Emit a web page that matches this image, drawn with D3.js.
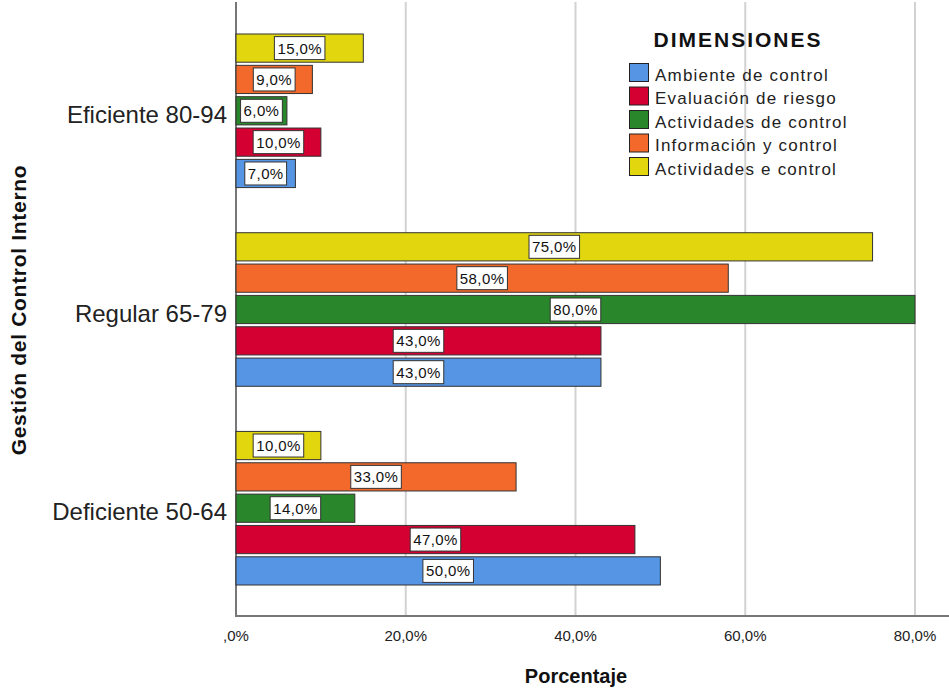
<!doctype html>
<html>
<head>
<meta charset="utf-8">
<style>
  html, body { margin: 0; padding: 0; background: #fff; }
  svg { display: block; font-family: "Liberation Sans", Arial, sans-serif; }
  .grid line { stroke: #d2d2d2; stroke-width: 2px; }
  .tick-lbl { font-size: 15px; fill: #222; }
  .cat-lbl { font-size: 24px; fill: #222; }
  .bar { stroke: #333; stroke-width: 1px; }
  .val-box { fill: #fff; stroke: #333; stroke-width: 1px; }
  .val-txt { font-size: 15px; fill: #111; letter-spacing: 0.4px; }
  .leg-txt { font-size: 17px; fill: #222; letter-spacing: 1.2px; }
</style>
</head>
<body>
<svg id="chart" width="949" height="689"></svg>
<script src="https://cdn.jsdelivr.net/npm/d3@7"></script>
<script>
    // categories, top to bottom
    var categories = ["Eficiente 80-94", "Regular 65-79", "Deficiente 50-64"];
    // series in legend order (drawn bottom to top inside each group)
    var series = ["Ambiente de control", "Evaluación de riesgo", "Actividades de control", "Información y control", "Actividades e control"];
    var colors = ["#5595e3", "#d50032", "#2a862b", "#f2692b", "#e2d70f"];
    // percentages per series, one value per category
    var ambiente = [7, 43, 50];
    var evaluacion = [10, 43, 47];
    var actividades = [6, 80, 14];
    var informacion = [9, 58, 33];
    var activE = [15, 75, 10];
    var values = [ambiente, evaluacion, actividades, informacion, activE];
    var xTicks = [0, 20, 40, 60, 80];

    var svg = d3.select("#chart");
    var left = 236, plotTop = 2, plotBottom = 616;

    var x = d3.scaleLinear().domain([0, 80]).range([left, 915]);
    var y0 = d3.scaleBand().domain(categories).range([1.5, plotBottom + 1.5]).paddingInner(0).paddingOuter(0.05);
    // yellow on top, blue at bottom
    var y1 = d3.scaleBand().domain(series.slice().reverse()).range([0, y0.bandwidth()])
        .paddingInner(0.1).paddingOuter(0.72);

    function fmt(v) {
        return v === 0 ? ",0%" : v.toFixed(1).replace(".", ",") + "%";
    }

    // gridlines
    svg.append("g").attr("class", "grid")
        .selectAll("line").data(xTicks.slice(1)).enter().append("line")
        .attr("x1", function(d){ return x(d); }).attr("x2", function(d){ return x(d); })
        .attr("y1", plotTop).attr("y2", plotBottom);

    // axes lines
    svg.append("line").attr("x1", left).attr("x2", left).attr("y1", plotTop).attr("y2", plotBottom)
        .attr("stroke", "#777").attr("stroke-width", 2);
    svg.append("line").attr("x1", left - 1).attr("x2", 949).attr("y1", plotBottom).attr("y2", plotBottom)
        .attr("stroke", "#777").attr("stroke-width", 2);

    // x tick labels
    svg.append("g").selectAll("text").data(xTicks).enter().append("text")
        .attr("class", "tick-lbl")
        .attr("x", function(d){ return x(d); })
        .attr("y", 641)
        .attr("text-anchor", "middle")
        .text(fmt);

    // category labels
    svg.append("g").selectAll("text").data(categories).enter().append("text")
        .attr("class", "cat-lbl")
        .attr("x", 227)
        .attr("y", function(d){ return y0(d) + y0.bandwidth() / 2 + 12; })
        .attr("text-anchor", "end")
        .text(function(d){ return d; });

    // bars
    var rows = [];
    categories.forEach(function(c, ci){
        series.forEach(function(s, si){
            rows.push({cat: c, ser: s, v: values[si][ci], color: colors[si]});
        });
    });

    var barG = svg.append("g");
    barG.selectAll("rect").data(rows).enter().append("rect")
        .attr("class", "bar")
        .attr("x", x(0))
        .attr("y", function(d){ return y0(d.cat) + y1(d.ser); })
        .attr("width", function(d){ return x(d.v) - x(0); })
        .attr("height", y1.bandwidth())
        .attr("fill", function(d){ return d.color; });

    // value labels in white boxes
    var lab = svg.append("g").selectAll("g").data(rows).enter().append("g")
        .attr("transform", function(d){
            return "translate(" + ((x(0) + x(d.v)) / 2) + "," + (y0(d.cat) + y1(d.ser) + y1.bandwidth() / 2) + ")";
        });
    lab.append("text").attr("class", "val-txt")
        .attr("text-anchor", "middle").attr("y", 5.5)
        .text(function(d){ return fmt(d.v); });
    lab.each(function(){
        var g = d3.select(this);
        var bb = g.select("text").node().getBBox();
        g.insert("rect", "text").attr("class", "val-box")
            .attr("x", bb.x - 3).attr("y", -11.5)
            .attr("width", bb.width + 6).attr("height", 23);
    });

    // axis titles
    svg.append("text")
        .attr("transform", "translate(26," + (plotBottom / 2 + 2) + ") rotate(-90)")
        .attr("text-anchor", "middle")
        .style("font-size", "21px").style("font-weight", "bold").attr("fill", "#111")
        .style("letter-spacing", "0.7px")
        .text("Gestión del Control Interno");

    svg.append("text")
        .attr("x", 576).attr("y", 683)
        .attr("text-anchor", "middle")
        .style("font-size", "20px").style("font-weight", "bold").attr("fill", "#111")
        .text("Porcentaje");

    // legend
    var leg = svg.append("g").attr("transform", "translate(629,0)");
    leg.append("text").attr("x", 109).attr("y", 47).attr("text-anchor", "middle")
        .style("font-size", "21px").style("font-weight", "bold").attr("fill", "#111")
        .style("letter-spacing", "2px")
        .text("DIMENSIONES");
    var li = leg.selectAll("g.li").data(series).enter().append("g").attr("class", "li")
        .attr("transform", function(d, i){ return "translate(0," + (63.5 + i * 23.5) + ")"; });
    li.append("rect").attr("x", 0.5).attr("width", 19).attr("height", 18)
        .attr("fill", function(d, i){ return colors[i]; })
        .attr("stroke", "#222").attr("stroke-width", 1);
    li.append("text").attr("class", "leg-txt").attr("x", 26).attr("y", 17)
        .text(function(d){ return d; });
</script>
</body>
</html>
